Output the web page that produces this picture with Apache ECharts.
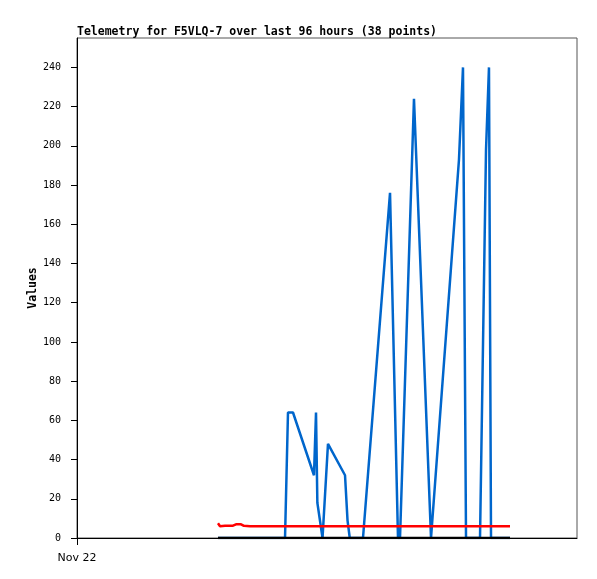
<!DOCTYPE html>
<html>
<head>
<meta charset="utf-8">
<script src="https://cdn.jsdelivr.net/npm/echarts@6/dist/echarts.min.js"></script>
<style>
html,body{margin:0;padding:0;background:#fff;}
#c{width:597px;height:579px;}
</style>
</head>
<body>
<div id="c"></div>
<script>
// Hours since Nov 22 00:00 (x axis spans 96 hours)
const times = [27.07, 27.46, 28.42, 29.95, 30.53, 31.49, 32.06, 33.22, 35.14, 37.06,
  39.94, 40.51, 41.47, 45.50, 45.89, 46.15, 47.14, 48.19, 51.46, 51.94,
  52.37, 54.91, 60.10, 61.63, 62.02, 64.70, 67.97, 68.35, 73.34, 74.11,
  74.69, 75.84, 77.38, 78.53, 79.10, 79.49, 81.22, 83.14];
const blueValues = [0, 0, 0, 0, 0, 0, 0, 0, 0, 0,
  0, 64, 64, 32, 64, 18, 0, 48, 32, 9,
  0, 0, 176, 0, 0, 224, 0, 0, 193, 240,
  0, 0, 0, 198, 240, 0, 0, 0];
const redValues = [7.5, 6, 6.3, 6.3, 7, 7, 6.2, 6, 6, 6,
  6, 6, 6, 6, 6, 6, 6, 6, 6, 6,
  6, 6, 6, 6, 6, 6, 6, 6, 6, 6,
  6, 6, 6, 6, 6, 6, 6, 6];
const blackValues = [0, 0, 0, 0, 0, 0, 0, 0, 0, 0,
  0, 0, 0, 0, 0, 0, 0, 0, 0, 0,
  0, 0, 0, 0, 0, 0, 0, 0, 0, 0,
  0, 0, 0, 0, 0, 0, 0, 0];
const yTicks = [0, 20, 40, 60, 80, 100, 120, 140, 160, 180, 200, 220, 240];
const xTickLabels = ['Nov 22'];
const xTicks = [0];

const pair = (vals) => times.map((t, i) => [t, vals[i]]);
const mono = "'DejaVu Sans Mono', monospace";

const chart = echarts.init(document.getElementById('c'), null, {renderer: 'canvas'});
chart.setOption({
  animation: false,
  backgroundColor: '#fff',
  title: {
    text: 'Telemetry for F5VLQ-7 over last 96 hours (38 points)',
    left: 72, top: 21,
    textStyle: {fontFamily: mono, fontWeight: 'bold', fontSize: 11.5, color: '#000'}
  },
  grid: {left: 77, top: 38, right: 20, bottom: 41, show: true, borderColor: '#555', borderWidth: 1, backgroundColor: 'transparent'},
  xAxis: {
    type: 'value', min: 0, max: 96,
    axisLine: {show: true, lineStyle: {color: '#000', width: 1}},
    axisTick: {show: true, customValues: xTicks, length: 7, lineStyle: {color: '#000'}},
    axisLabel: {customValues: xTicks, formatter: (v) => xTickLabels[xTicks.indexOf(v)] || '', margin: 15,
      fontFamily: "'DejaVu Sans', sans-serif", fontSize: 11, color: '#000'},
    splitLine: {show: false}
  },
  yAxis: {
    type: 'value', min: 0, max: 255,
    name: 'Values', nameLocation: 'middle', nameGap: 38, nameRotate: 90, nameMoveOverlap: false,
    nameTextStyle: {fontFamily: mono, fontWeight: 'bold', fontSize: 11.5, color: '#000'},
    axisLine: {show: true, lineStyle: {color: '#000', width: 1}},
    axisTick: {show: true, customValues: yTicks, length: 6, lineStyle: {color: '#000'}},
    axisLabel: {customValues: yTicks, margin: 16, fontFamily: mono, fontSize: 10, color: '#000'},
    splitLine: {show: false}
  },
  series: [
    {type: 'line', data: pair(blueValues), showSymbol: false, symbol: 'none', z: 2,
      lineStyle: {color: '#0066cc', width: 2.5}, itemStyle: {color: '#0066cc'}},
    {type: 'line', data: pair(redValues), showSymbol: false, symbol: 'none', z: 3,
      lineStyle: {color: '#ff0000', width: 2.5}, itemStyle: {color: '#ff0000'}},
    {type: 'line', data: pair(blackValues), showSymbol: false, symbol: 'none', z: 4,
      lineStyle: {color: '#000000', width: 2.5}, itemStyle: {color: '#000'}}
  ]
});
</script>
</body>
</html>
